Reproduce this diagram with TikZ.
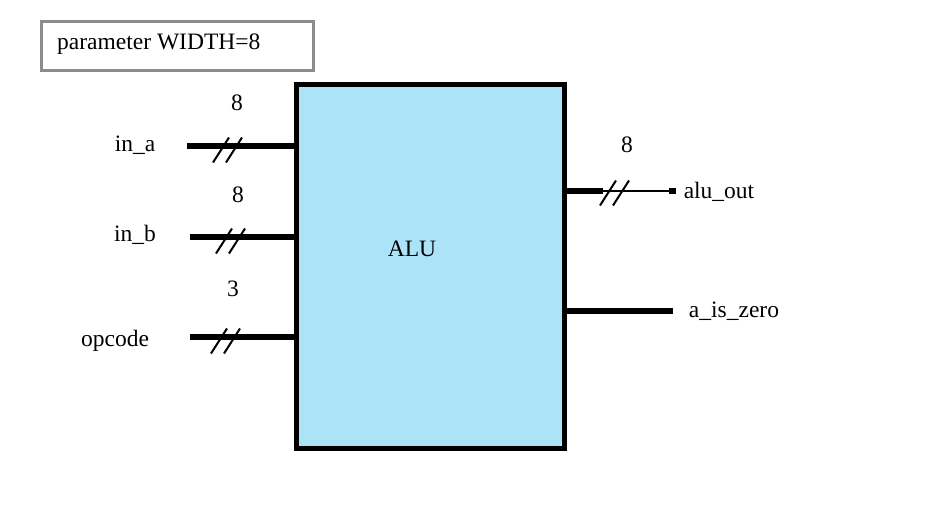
\documentclass[tikz,border=0pt]{standalone}
\usepackage{fontspec}
\setmainfont{Liberation Serif}
\usepackage{tikz}
\definecolor{alublue}{RGB}{173,227,247}
\tikzstyle{lbl}=[inner sep=0pt,font=\fontsize{23.5}{28}\selectfont]
\tikzstyle{bus}=[line width=6pt]
\newcommand{\busmark}[1]{%
  \draw[line width=2pt] (#1) ++(-14,12.5) -- ++(16,-25);
  \draw[line width=2pt] (#1) ++(-1,12.5) -- ++(16,-25);}

\begin{document}
\begin{tikzpicture}[x=1pt,y=-1pt]
	\useasboundingbox (0,0) rectangle (928,517);
	\node [draw=gray!90,line width=3pt,minimum width=272pt,minimum height=49pt,anchor=north west] (param) at (39.5,19.5) {};
	\node [lbl,anchor=west] at (57,44) {parameter WIDTH=8};
	\node [draw,fill=alublue,line width=5pt,minimum width=268pt,minimum height=364pt] (alu) at (430,266) {};
	\node [lbl] (alutxt) at (412,249) {ALU};
	% inputs
	\node [lbl] (ina) at (135,145) {in\_a};
	\node [lbl] (inb) at (135,235) {in\_b};
	\node [lbl] (opc) at (115,341) {opcode};
	\node [lbl] (wa) at (237,103) {8};
	\node [lbl] (wb) at (238,195) {8};
	\node [lbl] (wo) at (233,289) {3};
	\coordinate (ina end) at (187,146);
	\coordinate (inb end) at (190,237);
	\coordinate (opc end) at (190,337);
	\draw [bus] (ina end) -- (alu.west |- ina end);
	\draw [bus] (inb end) -- (alu.west |- inb end);
	\draw [bus] (opc end) -- (alu.west |- opc end);
	\busmark{227,150}
	\busmark{230,241}
	\busmark{225,341}
	% outputs
	\node [lbl] (aout) at (719,192) {alu\_out};
	\node [lbl] (zero) at (734,311) {a\_is\_zero};
	\node [lbl] (wout) at (627,145) {8};
	\coordinate (aout mid) at (603,191);
	\coordinate (aout end) at (676,191);
	\coordinate (zero end) at (673,311);
	\draw [bus] (alu.east |- aout mid) -- (aout mid);
	\draw [line width=2pt] (aout mid) -- (aout end);
	\draw [bus] ([xshift=-7pt]aout end) -- (aout end);
	\draw [bus] (alu.east |- zero end) -- (zero end);
	\busmark{614,193}
\end{tikzpicture}
\end{document}
